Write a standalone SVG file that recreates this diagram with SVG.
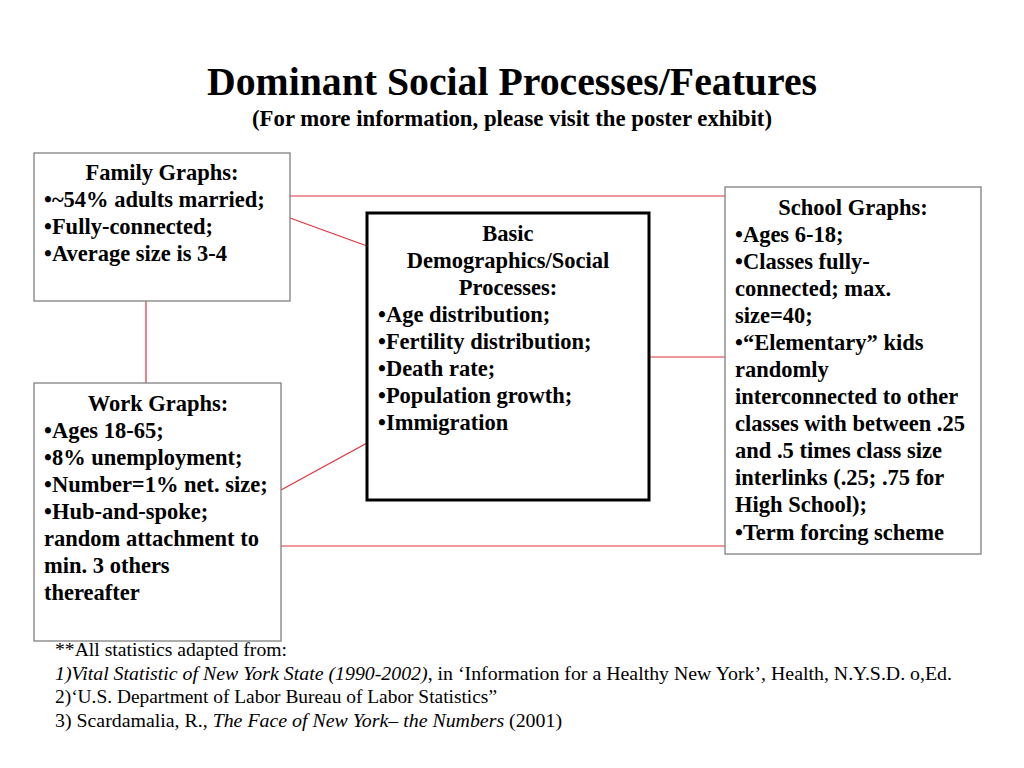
<svg xmlns="http://www.w3.org/2000/svg" width="1024" height="768" viewBox="0 0 1024 768">
<style>
.box{fill:#fff;stroke:#808080;stroke-width:1.3}
.main{fill:#fff;stroke:#000;stroke-width:3}
.t{font-family:"Liberation Serif","Times New Roman",serif;font-weight:bold;font-size:22.5px;fill:#000}
.c{text-anchor:middle}
.conn line{stroke:#e0303a;stroke-width:1.2}
.f{font-family:"Liberation Serif","Times New Roman",serif;font-size:19px;fill:#000}
</style>
<rect width="1024" height="768" fill="#fff"/>
<text x="512" y="95" class="t c" style="font-size:40px" textLength="610" lengthAdjust="spacingAndGlyphs">Dominant Social Processes/Features</text>
<text x="512" y="126" class="t c" textLength="520" lengthAdjust="spacingAndGlyphs">(For more information, please visit the poster exhibit)</text>
<g id="connectors" class="conn">
<line x1="290" y1="196" x2="725" y2="196"/>
<line x1="290" y1="218" x2="367" y2="246"/>
<line x1="146" y1="301" x2="146" y2="383"/>
<line x1="281" y1="490" x2="367" y2="443"/>
<line x1="649" y1="357" x2="725" y2="357"/>
<line x1="281" y1="546" x2="725" y2="546"/>
</g>
<g id="family">
<rect x="34" y="153" width="256" height="148" class="box"/>
<text x="162" y="180" class="t c">Family Graphs:</text>
<text x="44" y="207" class="t">•~54% adults married;</text>
<text x="44" y="234" class="t">•Fully-connected;</text>
<text x="44" y="261" class="t">•Average size is 3-4</text>
</g>
<g id="basic">
<rect x="367" y="213" width="282" height="287" class="main"/>
<text x="508" y="241" class="t c">Basic</text>
<text x="508" y="268" class="t c">Demographics/Social</text>
<text x="508" y="295" class="t c">Processes:</text>
<text x="378" y="322" class="t">•Age distribution;</text>
<text x="378" y="349" class="t">•Fertility distribution;</text>
<text x="378" y="376" class="t">•Death rate;</text>
<text x="378" y="403" class="t">•Population growth;</text>
<text x="378" y="430" class="t">•Immigration</text>
</g>
<g id="school">
<rect x="725" y="187" width="256" height="367" class="box"/>
<text x="853" y="215" class="t c">School Graphs:</text>
<text x="735" y="242" class="t">•Ages 6-18;</text>
<text x="735" y="269" class="t">•Classes fully-</text>
<text x="735" y="296" class="t">connected; max.</text>
<text x="735" y="323" class="t">size=40;</text>
<text x="735" y="350" class="t">•“Elementary” kids</text>
<text x="735" y="377" class="t">randomly</text>
<text x="735" y="404" class="t">interconnected to other</text>
<text x="735" y="431" class="t">classes with between .25</text>
<text x="735" y="458" class="t">and .5 times class size</text>
<text x="735" y="485" class="t">interlinks (.25; .75 for</text>
<text x="735" y="512" class="t">High School);</text>
<text x="735" y="540" class="t">•Term forcing scheme</text>
</g>
<g id="work">
<rect x="34" y="383" width="247" height="258" class="box"/>
<text x="158" y="411" class="t c">Work Graphs:</text>
<text x="44" y="438" class="t">•Ages 18-65;</text>
<text x="44" y="465" class="t">•8% unemployment;</text>
<text x="44" y="492" class="t">•Number=1% net. size;</text>
<text x="44" y="519" class="t">•Hub-and-spoke;</text>
<text x="44" y="546" class="t">random attachment to</text>
<text x="44" y="573" class="t">min. 3 others</text>
<text x="44" y="600" class="t">thereafter</text>
</g>
<g id="footer">
<text x="55" y="656" class="f" textLength="232" lengthAdjust="spacingAndGlyphs">**All statistics adapted from:</text>
<text x="55" y="680" class="f" textLength="897" lengthAdjust="spacingAndGlyphs"><tspan font-style="italic">1)Vital Statistic of New York State (1990-2002)</tspan>, in ‘Information for a Healthy New York’, Health, N.Y.S.D. o,Ed.</text>
<text x="55" y="703" class="f" textLength="442" lengthAdjust="spacingAndGlyphs">2)‘U.S. Department of Labor Bureau of Labor Statistics”</text>
<text x="55" y="727" class="f" textLength="507" lengthAdjust="spacingAndGlyphs">3) Scardamalia, R., <tspan font-style="italic">The Face of New York– the Numbers</tspan> (2001)</text>
</g>
</svg>
